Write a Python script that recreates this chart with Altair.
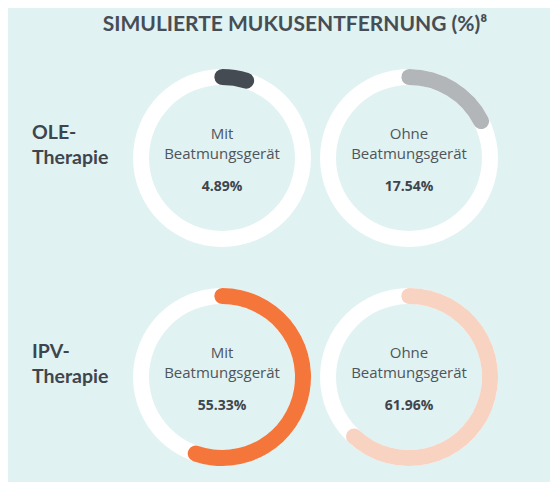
import altair as alt
import pandas as pd

title_text = ["SIMULIERTE MUKUSENTFERNUNG (%)⁸"]
therapies = ["OLE", "IPV"]
row_labels = ["OLE-\nTherapie", "IPV-\nTherapie"]
devices = ["Mit", "Ohne"]
device_labels = ["Mit\nBeatmungsgerät", "Ohne\nBeatmungsgerät"]
values = [[4.89, 17.54], [55.33, 61.96]]
value_labels = [["4.89%", "17.54%"], ["55.33%", "61.96%"]]
colors = ["#454b53", "#b3b6b9", "#f5763b", "#f9d3c1"]

rows = []
cells = []
for i, t in enumerate(therapies):
    for j, d in enumerate(devices):
        cell = f"{t} {d}"
        cells.append(cell)
        rows.append(dict(therapy=t, device=d, cell=cell, value=values[i][j],
                         label=device_labels[j], pct=value_labels[i][j]))
df = pd.DataFrame(rows)
rowdf = pd.DataFrame({"therapy": therapies, "rowlabel": row_labels})
titledf = pd.DataFrame({"t": title_text})

x = alt.X("device:N", scale=alt.Scale(type="point", domain=devices, range=[214, 401], padding=0), axis=None)
y = alt.Y("therapy:N", scale=alt.Scale(type="point", domain=therapies, range=[150, 369], padding=0), axis=None)
theta_scale = alt.Scale(domain=[0, 100], range=[0, 6.283185307179586])

base = alt.Chart(df)

ring = base.transform_calculate(t0="0", t1="100").mark_arc(
    radius=89, radius2=73, color="white"
).encode(
    x=x, y=y,
    theta=alt.Theta("t0:Q", scale=theta_scale, stack=None),
    theta2="t1:Q",
)

arc = base.transform_calculate(a0="-1.5", a1="datum.value + 1.5").mark_arc(
    radius=89, radius2=73, cornerRadius=8
).encode(
    x=x, y=y,
    theta=alt.Theta("a0:Q", scale=theta_scale, stack=None),
    theta2="a1:Q",
    color=alt.Color("cell:N", scale=alt.Scale(domain=cells, range=colors), legend=None),
)

dev_text = base.mark_text(
    lineBreak="\n", font="Open Sans", fontSize=15, color="#4f555b",
    baseline="alphabetic", align="center", dy=-19.5, lineHeight=20
).encode(x=x, y=y, text="label:N")

pct_text = base.mark_text(
    font="Open Sans", fontSize=14, fontWeight="bold", color="#3f454c",
    baseline="alphabetic", align="center", dy=33
).encode(x=x, y=y, text="pct:N")

row_text = alt.Chart(rowdf).mark_text(
    align="left", baseline="alphabetic", font="Lato", fontSize=19.5, fontWeight="bold",
    lineBreak="\n", lineHeight=25, dy=-19, color="#3f454c"
).encode(x=alt.value(24), y=y, text="rowlabel:N")

title = alt.Chart(titledf).mark_text(
    align="center", baseline="alphabetic", font="Lato", fontSize=21, fontWeight="bold",
    color="#474d54"
).encode(x=alt.value(287), y=alt.value(23), text="t:N")

chart = alt.layer(ring, arc, dev_text, pct_text, row_text, title).properties(
    width=542, height=474, padding=0, autosize=alt.AutoSizeParams(type="none")
).configure(background="#e0f2f2").configure_view(stroke=None)

chart.save("out.html", embed_options={"renderer": "svg", "actions": False})
